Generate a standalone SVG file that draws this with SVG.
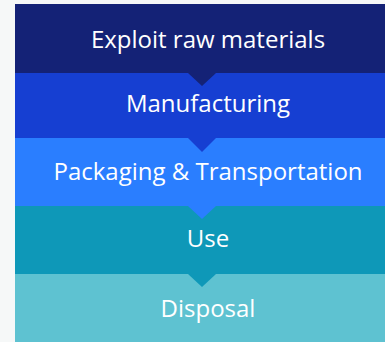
<svg xmlns="http://www.w3.org/2000/svg" width="385" height="342" viewBox="0 0 385 342">
<style>
text{font-family:"Open Sans","Noto Sans",sans-serif;font-size:24px;fill:#ffffff;text-anchor:middle}
</style>
<rect width="385" height="342" fill="#f6f8f8"/>
<g id="n5"><rect x="15" y="274" width="370" height="68" fill="#5ec2d1"/><text x="208" y="317">Disposal</text></g>
<g id="n4"><rect x="15" y="206" width="370" height="68" fill="#0e98b8"/><text x="208" y="247">Use</text></g>
<g id="n3"><rect x="15" y="138" width="370" height="68" fill="#2a7eff"/><text x="208" y="180">Packaging &amp; Transportation</text></g>
<g id="n2"><rect x="15" y="73" width="370" height="65" fill="#163fd2"/><text x="208" y="112">Manufacturing</text></g>
<g id="n1"><rect x="15" y="4" width="370" height="69" fill="#142276"/><text x="208" y="48">Exploit raw materials</text></g>
<g id="connectors">
<polygon points="188,73 216,73 202,86" fill="#142276"/>
<polygon points="188,138 216,138 202,152" fill="#163fd2"/>
<polygon points="188,206 216,206 202,219" fill="#2a7eff"/>
<polygon points="188,274 216,274 202,287" fill="#0e98b8"/>
</g>
</svg>
